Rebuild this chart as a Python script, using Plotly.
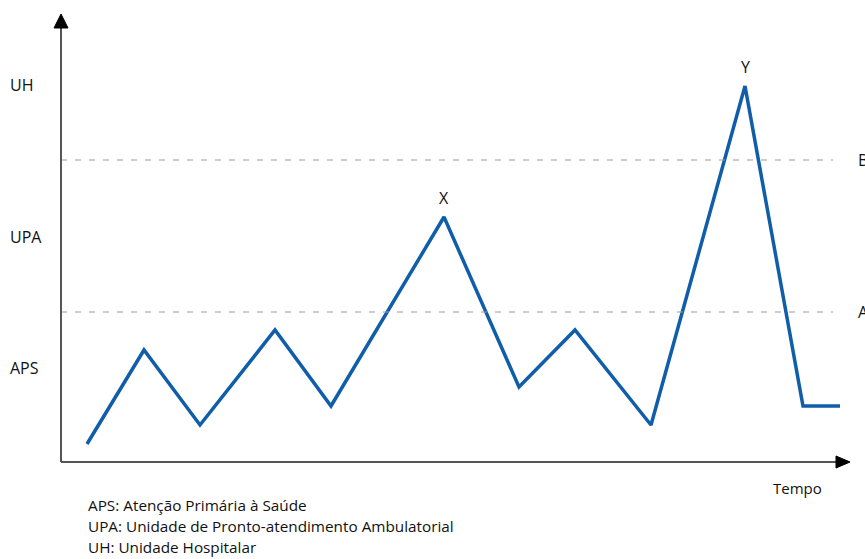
import plotly.graph_objects as go

# Data (time units, care level units; origin at axes crossing)
tempo = [26, 83, 139, 214, 270, 383, 458, 514, 590, 684, 742, 779]
nivel = [18, 112, 37, 132, 56, 245, 75, 132, 37, 376, 56, 56]
limiar_A = 150
limiar_B = 302
niveis_nomes = ["APS", "UPA", "UH"]
niveis_pos = [94, 225, 377]
picos = [("X", 383, 245), ("Y", 684, 376)]
legenda = ["APS: Atenção Primária à Saúde",
           "UPA: Unidade de Pronto-atendimento Ambulatorial",
           "UH: Unidade Hospitalar"]

FONT = "Open Sans, sans-serif"
BLUE = "#105ea9"

fig = go.Figure()
fig.add_trace(go.Scatter(x=tempo, y=nivel, mode="lines",
                         line=dict(color=BLUE, width=3.5), hoverinfo="skip"))

shapes = []
for yv in (limiar_A, limiar_B):
    shapes.append(dict(type="line", x0=0, x1=772, y0=yv, y1=yv, xref="x", yref="y",
                       line=dict(color="#9a9a9a", width=1.2, dash="6px,8px")))
shapes.append(dict(type="line", x0=0, x1=0, y0=0, y1=436, xref="x", yref="y",
                   line=dict(color="#555555", width=2)))
shapes.append(dict(type="line", x0=0, x1=778, y0=0, y1=0, xref="x", yref="y",
                   line=dict(color="#555555", width=2)))
shapes.append(dict(type="path", path="M -7,434 L 7,434 L 0,448 Z", xref="x", yref="y",
                   fillcolor="black", line=dict(color="black", width=1)))
shapes.append(dict(type="path", path="M 775,-6 L 775,6 L 789,0 Z", xref="x", yref="y",
                   fillcolor="black", line=dict(color="black", width=1)))

ann = []
for name, yv in zip(niveis_nomes, niveis_pos):
    ann.append(dict(x=-53, y=yv, text=name, showarrow=False, xanchor="left",
                    yanchor="middle", font=dict(size=16, color="#111", family=FONT)))
for lab, xv, yv in picos:
    ann.append(dict(x=xv, y=yv, text=lab, showarrow=False, yanchor="bottom", yshift=6,
                    font=dict(size=16, color="#111", family=FONT)))
ann.append(dict(x=795, y=limiar_B, text="B", showarrow=False, xanchor="left",
                yanchor="middle", font=dict(size=16, color="#111", family=FONT)))
ann.append(dict(x=795, y=limiar_A, text="A", showarrow=False, xanchor="left",
                yanchor="middle", font=dict(size=16, color="#111", family=FONT)))
ann.append(dict(x=736, y=-26, text="Tempo", showarrow=False, xanchor="center",
                yanchor="middle", font=dict(size=15, color="#111", family=FONT)))
for i, t in enumerate(legenda):
    ann.append(dict(x=25, y=-43 - 21 * i, text=t, showarrow=False, xanchor="left",
                    yanchor="middle", font=dict(size=15.3, color="#111", family=FONT)))

fig.update_layout(
    width=865, height=559,
    margin=dict(l=0, r=0, t=0, b=0),
    paper_bgcolor="white", plot_bgcolor="white",
    showlegend=False,
    xaxis=dict(range=[-61, 804], visible=False, fixedrange=True),
    yaxis=dict(range=[-97, 462], visible=False, fixedrange=True),
    shapes=shapes, annotations=ann,
)
fig.write_html("out.html",
               config={"displayModeBar": False},
               post_script="document.body.style.margin='0';document.body.style.overflow='hidden';")
